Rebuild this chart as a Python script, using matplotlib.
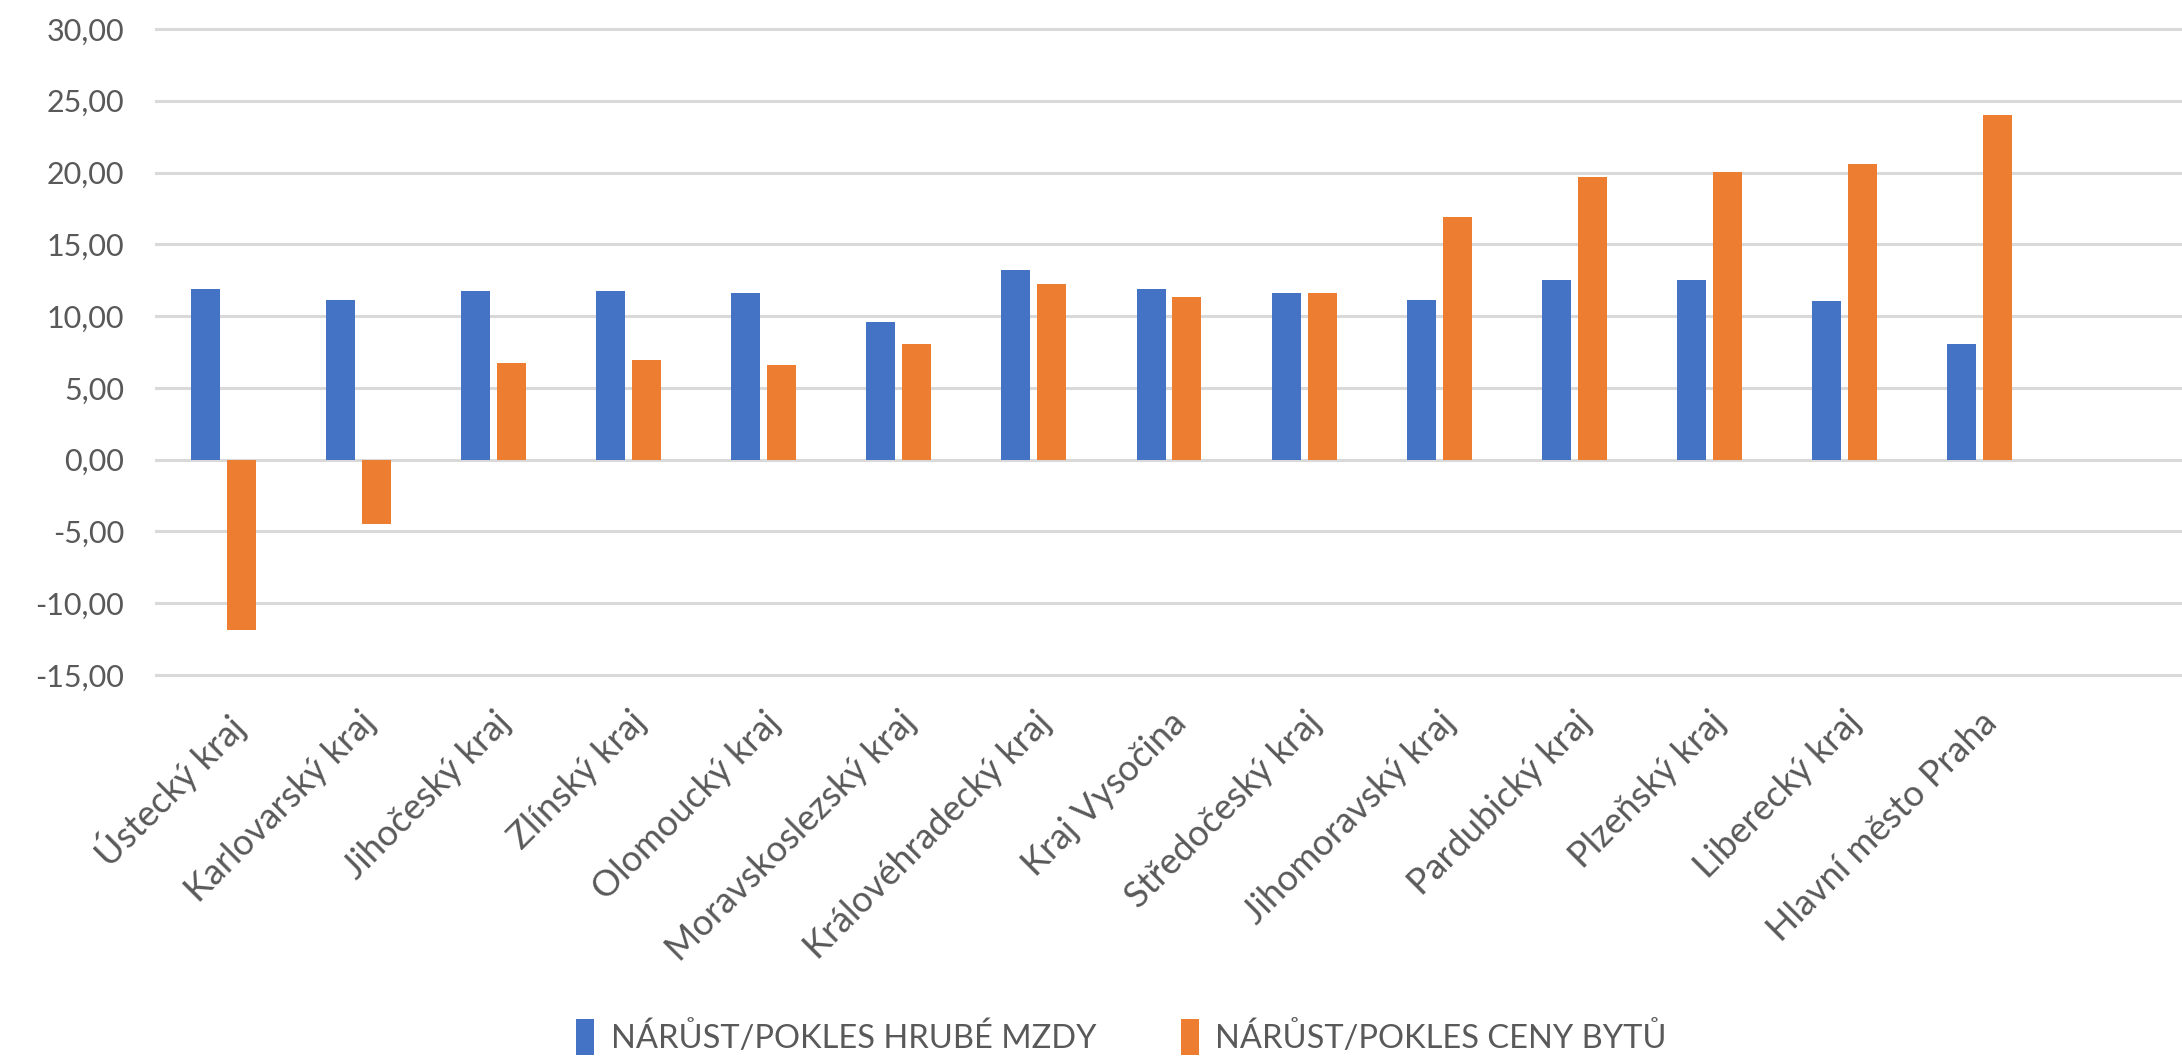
import numpy as np
import matplotlib.pyplot as plt

plt.rcParams['font.family'] = ['Lato', 'DejaVu Sans']

# data
regions = ['Ústecký kraj', 'Karlovarský kraj', 'Jihočeský kraj', 'Zlínský kraj',
           'Olomoucký kraj', 'Moravskoslezský kraj', 'Královéhradecký kraj',
           'Kraj Vysočina', 'Středočeský kraj', 'Jihomoravský kraj',
           'Pardubický kraj', 'Plzeňský kraj', 'Liberecký kraj', 'Hlavní město Praha']
wages = [11.90, 11.15, 11.74, 11.74, 11.62, 9.56, 13.21,
         11.90, 11.62, 11.15, 12.49, 12.49, 11.03, 8.07]
flats = [-11.84, -4.45, 6.73, 6.92, 6.57, 8.07, 12.21,
         11.34, 11.62, 16.92, 19.72, 20.03, 20.59, 23.99]
y_ticks = np.arange(-15, 31, 5)

blue = '#4472C4'
orange = '#ED7D31'
grey_text = '#595959'

fig = plt.figure(figsize=(21.82, 10.58), dpi=100)
ax = fig.add_axes([0.0715, 0.362, 0.9285, 0.6106])

x = np.arange(len(regions))
w = 0.215
ax.bar(x - 0.133, wages, width=w, color=blue, label='NÁRŮST/POKLES HRUBÉ MZDY', zorder=3)
ax.bar(x + 0.133, flats, width=w, color=orange, label='NÁRŮST/POKLES CENY BYTŮ', zorder=3)

ax.set_xlim(-0.5, len(regions) + 0.5)  # one empty slot on the right
ax.set_ylim(-15, 30)
ax.set_yticks(y_ticks)
ax.set_yticklabels([f'{v:.2f}'.replace('.', ',') for v in y_ticks])
ax.set_xticks(x)
ax.set_xticklabels(regions, rotation=45, ha='right', va='top', rotation_mode='anchor')

ax.grid(axis='y', color='#D9D9D9', linewidth=2.2, zorder=0)
for gl in ax.get_ygridlines():
    gl.set_clip_on(False)
for s in ax.spines.values():
    s.set_visible(False)
ax.tick_params(axis='both', length=0, colors=grey_text)
ax.tick_params(axis='y', pad=23, labelsize=22)
ax.tick_params(axis='x', pad=22, labelsize=26)

leg = fig.legend(loc='center', bbox_to_anchor=(0.514, 0.02), ncol=2, frameon=False,
                 fontsize=23.5, handlelength=0.55, handleheight=1.3, columnspacing=2.6,
                 handletextpad=0.5)
for t in leg.get_texts():
    t.set_color(grey_text)

fig.savefig('out.png', dpi=100, facecolor='white')
